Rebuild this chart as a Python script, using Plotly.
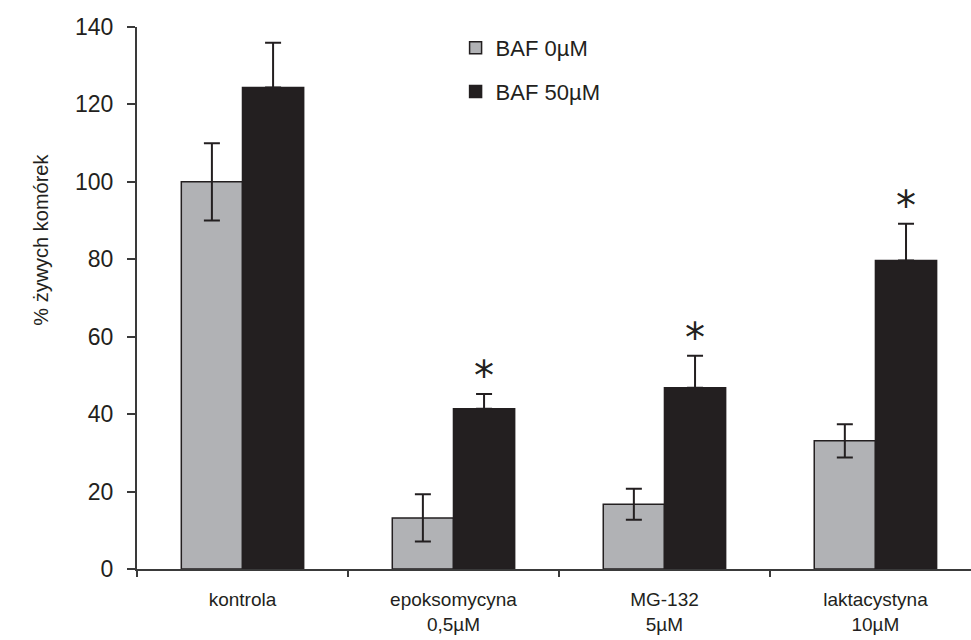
import plotly.graph_objects as go

categories = ["kontrola", "epoksomycyna<br>0,5µM", "MG-132<br>5µM", "laktacystyna<br>10µM"]
series_names = ["BAF 0µM", "BAF 50µM"]
baf0 = [100.0, 13.2, 16.7, 33.1]
baf0_err = [10.0, 6.1, 4.0, 4.3]
baf50 = [124.4, 41.4, 46.8, 79.7]
baf50_err = [11.5, 3.8, 8.3, 9.5]
significance = ["", "*", "*", "*"]
y_ticks = [0, 20, 40, 60, 80, 100, 120, 140]

INK = "#231f20"
GRAY = "#b1b2b5"
xpos = list(range(len(categories)))

fig = go.Figure()
fig.add_trace(go.Bar(
    x=xpos, y=baf0, name=series_names[0], legendgroup="a",
    marker=dict(color=GRAY, line=dict(color=INK, width=1.5)),
    error_y=dict(type="data", array=baf0_err, symmetric=True,
                 color=INK, thickness=2, width=8),
))
fig.add_trace(go.Bar(
    x=xpos, y=baf50, name=series_names[1], legendgroup="b",
    marker=dict(color=INK, line=dict(color=INK, width=1.5)),
    error_y=dict(type="data", array=baf50_err, arrayminus=[0] * len(baf50),
                 symmetric=False, color=INK, thickness=2, width=8),
))

bargap = 0.42
offset = (1 - bargap) / 4
for i, s in enumerate(significance):
    if s:
        fig.add_annotation(
            x=xpos[i] + offset, y=baf50[i] + baf50_err[i], text=s,
            showarrow=False, yanchor="middle", yshift=18,
            font=dict(family="DejaVu Sans", size=40, color=INK),
        )

fig.add_annotation(
    xref="paper", yref="paper", x=-0.1307, y=0.6076,
    text="% żywych komórek", textangle=-90, showarrow=False,
    font=dict(family="Liberation Sans", size=20, color=INK),
)

fig.update_layout(
    width=971, height=640,
    margin=dict(l=137, r=0, t=27, b=71, autoexpand=False),
    paper_bgcolor="white", plot_bgcolor="white",
    barmode="group", bargap=bargap, bargroupgap=0,
    font=dict(family="Liberation Sans", color=INK),
    showlegend=True,
    legend=dict(
        x=0.382, y=1.0, xanchor="left", yanchor="top",
        font=dict(size=22, color=INK), tracegroupgap=12,
        traceorder="grouped", bgcolor="rgba(0,0,0,0)", itemwidth=30,
    ),
    xaxis=dict(
        range=[-0.5, 3.453], tickmode="array", tickvals=xpos,
        ticktext=categories, ticks="", showgrid=False, zeroline=False,
        showline=True, linecolor="#3a3a3a", linewidth=2,
        tickfont=dict(size=19, color=INK), automargin=False,
        ticklabelstandoff=12,
        minor=dict(ticks="outside", tick0=0.5, dtick=1, ticklen=6,
                   tickwidth=2, tickcolor="#3a3a3a", showgrid=False),
    ),
    yaxis=dict(
        range=[0, 140], tickmode="array", tickvals=y_ticks,
        ticks="outside", ticklen=8, tickwidth=2, tickcolor="#3a3a3a",
        showline=True, linecolor="#3a3a3a", linewidth=2,
        showgrid=False, zeroline=False, automargin=False,
        tickfont=dict(size=23, color=INK), ticklabelstandoff=9,
    ),
)

fig.write_html("out.html")
